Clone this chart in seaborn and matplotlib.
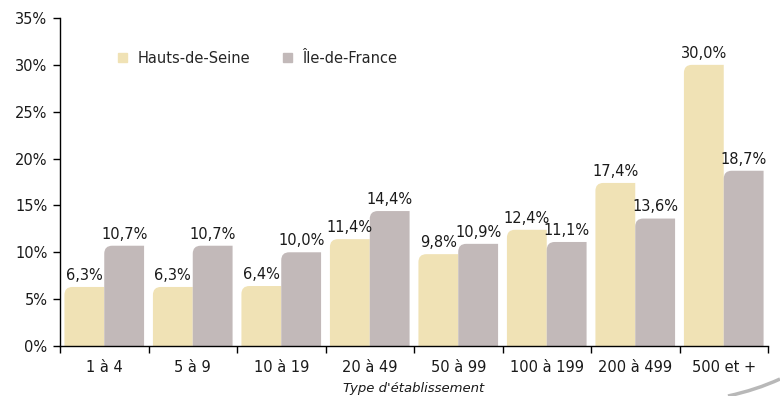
import matplotlib
matplotlib.use("Agg")
import matplotlib.pyplot as plt
import seaborn as sns
import pandas as pd
import numpy as np
from matplotlib.patches import Rectangle, PathPatch
from matplotlib.path import Path

categories = ["1 à 4", "5 à 9", "10 à 19", "20 à 49", "50 à 99", "100 à 199", "200 à 499", "500 et +"]
hauts_de_seine = [6.3, 6.3, 6.4, 11.4, 9.8, 12.4, 17.4, 30.0]
ile_de_france = [10.7, 10.7, 10.0, 14.4, 10.9, 11.1, 13.6, 18.7]
series_names = ["Hauts-de-Seine", "Île-de-France"]
colors = ["#F0E2B5", "#C2B9B9"]
y_ticks = [0, 5, 10, 15, 20, 25, 30, 35]

df = pd.DataFrame({
    "cat": categories * 2,
    "serie": [series_names[0]] * len(categories) + [series_names[1]] * len(categories),
    "val": hauts_de_seine + ile_de_france,
})

sns.set_theme(style="white")
plt.rcParams["font.family"] = ["DejaVu Sans"]
FS = 10.5
TXT = "#1a1a1a"

fig = plt.figure(figsize=(7.8, 3.96), dpi=100)
ax = fig.add_axes([60 / 780, 50 / 396, 708 / 780, 328 / 396])

sns.barplot(data=df, x="cat", y="val", hue="serie", order=categories,
            hue_order=series_names, palette=colors, width=0.9, ax=ax,
            saturation=1, errorbar=None, linewidth=0, legend=False)

ax.set_xlim(-0.5, len(categories) - 0.5)
ax.set_ylim(0, 35)

# round the top-left corner of every bar (shape derived from the bar geometry)
rx, ry = 0.09, 0.85
for cont in ax.containers:
    for bar in cont:
        x0, w, h = bar.get_x(), bar.get_width(), bar.get_height()
        x1 = x0 + w
        verts = [(x0, 0), (x0, h - ry), (x0, h), (x0 + rx, h), (x1, h), (x1, 0), (x0, 0)]
        codes = [Path.MOVETO, Path.LINETO, Path.CURVE3, Path.CURVE3, Path.LINETO, Path.LINETO, Path.CLOSEPOLY]
        ax.add_patch(PathPatch(Path(verts, codes), facecolor=bar.get_facecolor(),
                               edgecolor="none", zorder=bar.get_zorder()))
        bar.set_visible(False)

# labels
for cont, vals in zip(ax.containers, [hauts_de_seine, ile_de_france]):
    for bar, v in zip(cont, vals):
        ax.annotate(f"{v:.1f}%".replace(".", ","),
                    (bar.get_x() + bar.get_width() / 2, bar.get_height()),
                    xytext=(0, 3), textcoords="offset points",
                    ha="center", va="bottom", fontsize=FS, color=TXT)

ax.set_yticks(y_ticks)
ax.set_yticklabels([f"{t}%" for t in y_ticks], fontsize=FS, color=TXT)

ax.set_xticks(np.arange(-0.5, len(categories), 1.0))
ax.set_xticklabels([])
ax.set_xticks(np.arange(len(categories)), minor=True)
ax.set_xticklabels(categories, minor=True, fontsize=FS, color=TXT)
ax.tick_params(axis="x", which="major", length=5, width=1, color="black", direction="out", bottom=True)
ax.tick_params(axis="x", which="minor", length=0, pad=10)
ax.tick_params(axis="y", length=5, width=1, color="black", direction="out", left=True, pad=4)

for s in ["top", "right"]:
    ax.spines[s].set_visible(False)
for s in ["left", "bottom"]:
    ax.spines[s].set_color("black")
    ax.spines[s].set_linewidth(1)

ax.set_xlabel("Type d'établissement", fontsize=9.5, style="italic", color=TXT, labelpad=5)
ax.set_ylabel("")

handles = [Rectangle((0, 0), 1, 1, color=c) for c in colors]
ax.legend(handles, series_names, loc="upper left", bbox_to_anchor=(0.064, 0.94), ncol=2,
          frameon=False, fontsize=FS, handlelength=0.6, handleheight=0.6,
          columnspacing=2.25, handletextpad=0.7)

# decorative swoosh bottom right
verts = [(728 / 780, 0.0), (756 / 780, 6 / 396), (780 / 780, 17 / 396)]
path = Path(verts, [Path.MOVETO, Path.CURVE3, Path.CURVE3])
fig.add_artist(PathPatch(path, transform=fig.transFigure, facecolor="none",
                         edgecolor="#b8b8b8", linewidth=2.5))

fig.savefig("out.png", dpi=100)
